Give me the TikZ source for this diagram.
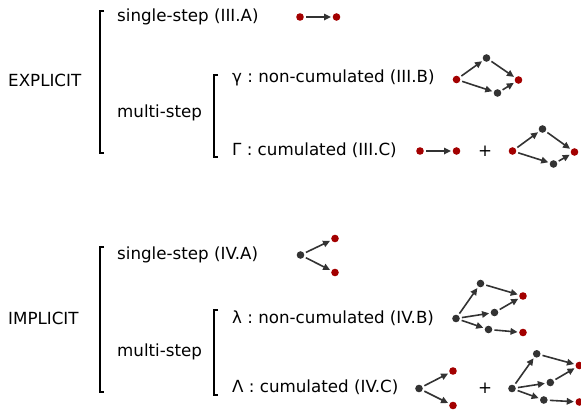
\documentclass[tikz,border=0pt]{standalone}
\usepackage{fontspec}
\setmainfont{DejaVu Sans}
\usetikzlibrary{arrows.meta}
\definecolor{dotred}{HTML}{A30000}
\definecolor{dotgray}{HTML}{333333}
\frenchspacing

\begin{document}
\begin{tikzpicture}[x=1pt, y=-1pt, font=\fontsize{16.7}{20}\selectfont,
    lbl/.style={anchor=west, inner sep=0pt},
    reddot/.style={circle, fill=dotred, inner sep=0pt, minimum size=7.6pt},
    graydot/.style={circle, fill=dotgray, inner sep=0pt, minimum size=7.6pt},
    edge/.style={-{Triangle[length=7pt,width=6.5pt]}, draw=dotgray, line width=1.6pt, shorten <=2pt, shorten >=1.5pt},
    brack/.style={line width=2.1pt}]
    \useasboundingbox (0,0) rectangle (581,410);

    % Labels
    \node[lbl] (expl) at (8,80) {EXPLICIT};
    \node[lbl] (ss3) at (117,17) {single-step (III.A)};
    \node[lbl] (ms3) at (117,113) {multi-step};
    \node[lbl] (nc3) at (232,78) {γ : non-cumulated (III.B)};
    \node[lbl] (cu3) at (232,150) {Γ : cumulated (III.C)};
    \node (plus3) at (485,151) {+};

    \node[lbl] (impl) at (8,318) {IMPLICIT};
    \node[lbl] (ss4) at (117,255) {single-step (IV.A)};
    \node[lbl] (ms4) at (117,352) {multi-step};
    \node[lbl] (nc4) at (232,318) {λ : non-cumulated (IV.B)};
    \node[lbl] (cu4) at (232,387) {Λ : cumulated (IV.C)};
    \node (plus4) at (485,388) {+};

    % Brackets
    \draw[brack] (104,11) -- (100,11) -- (100,153) -- (104,153);
    \draw[brack] (218,75) -- (214,75) -- (214,157) -- (218,157);
    \draw[brack] (104,247) -- (100,247) -- (100,392) -- (104,392);
    \draw[brack] (218,310) -- (214,310) -- (214,395) -- (218,395);

    % III.A
    \node[reddot] (a1) at (300,17) {};
    \node[reddot] (a2) at (336.5,17) {};
    \draw[edge] (a1) -- (a2);

    % III.B
    \node[reddot] (b0) at (456.5,79.5) {};
    \node[graydot] (b1) at (486.5,58) {};
    \node[graydot] (b2) at (497.5,93) {};
    \node[reddot] (b3) at (518.5,80) {};
    \draw[edge] (b0) -- (b1);
    \draw[edge] (b0) -- (b2);
    \draw[edge] (b1) -- (b3);
    \draw[edge] (b2) -- (b3);

    % III.C
    \node[reddot] (c1) at (420,151) {};
    \node[reddot] (c2) at (456.5,151) {};
    \draw[edge] (c1) -- (c2);
    \node[reddot] (d0) at (512.5,151) {};
    \node[graydot] (d1) at (542.5,129) {};
    \node[graydot] (d2) at (553.5,164) {};
    \node[reddot] (d3) at (574.5,152) {};
    \draw[edge] (d0) -- (d1);
    \draw[edge] (d0) -- (d2);
    \draw[edge] (d1) -- (d3);
    \draw[edge] (d2) -- (d3);

    % IV.A
    \node[graydot] (e0) at (300.5,255) {};
    \node[reddot] (e1) at (335,238.5) {};
    \node[reddot] (e2) at (335,272.5) {};
    \draw[edge] (e0) -- (e1);
    \draw[edge] (e0) -- (e2);

    % IV.B
    \node[graydot] (f0) at (456,318.5) {};
    \node[graydot] (f1) at (480.5,283.5) {};
    \node[graydot] (f2) at (494.5,312.5) {};
    \node[graydot] (f3) at (488.5,329.5) {};
    \node[reddot] (f4) at (523,296) {};
    \node[reddot] (f5) at (523,332.5) {};
    \draw[edge] (f0) -- (f1);
    \draw[edge] (f0) -- (f2);
    \draw[edge] (f0) -- (f3);
    \draw[edge] (f1) -- (f4);
    \draw[edge] (f2) -- (f4);
    \draw[edge] (f3) -- (f5);

    % IV.C
    \node[graydot] (g0) at (419,388.5) {};
    \node[reddot] (g1) at (453,371) {};
    \node[reddot] (g2) at (453,405.5) {};
    \draw[edge] (g0) -- (g1);
    \draw[edge] (g0) -- (g2);
    \node[graydot] (h0) at (512,388.5) {};
    \node[graydot] (h1) at (536.7,353.8) {};
    \node[graydot] (h2) at (550.3,382.5) {};
    \node[graydot] (h3) at (543.8,400) {};
    \node[reddot] (h4) at (579.3,365.5) {};
    \node[reddot] (h5) at (579.3,402) {};
    \draw[edge] (h0) -- (h1);
    \draw[edge] (h0) -- (h2);
    \draw[edge] (h0) -- (h3);
    \draw[edge] (h1) -- (h4);
    \draw[edge] (h2) -- (h4);
    \draw[edge] (h3) -- (h5);
\end{tikzpicture}
\end{document}
